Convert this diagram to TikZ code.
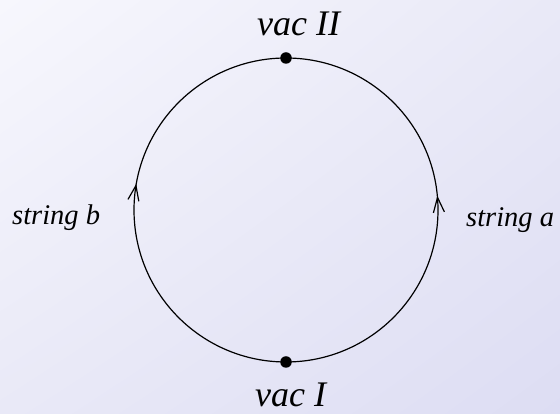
\documentclass[tikz,border=0pt]{standalone}
\usepackage{fontspec}
\setmainfont{LiberationSerif}[Extension=.ttf,UprightFont=*-Regular,ItalicFont=*-Italic]
\usetikzlibrary{arrows.meta,decorations.markings,shadings}
\definecolor{bgA}{RGB}{247,247,253}
\definecolor{bgB}{RGB}{233,233,247}
\definecolor{bgC}{RGB}{221,221,243}
\tikzset{
  vacdot/.style={circle,fill=black,inner sep=0pt,minimum size=11.5pt},
  biglabel/.style={inner sep=0pt,font=\fontsize{36}{40}\selectfont\itshape},
  smalllabel/.style={inner sep=0pt,font=\fontsize{28.5}{32}\selectfont\itshape},
  stringline/.style={line width=1.2pt},
  markat/.style={postaction={decorate,decoration={markings,
     mark=at position #1 with {\arrow{Straight Barb[length=15pt,width=11pt,line width=1.2pt]}}}}}
}
\begin{document}
\begin{tikzpicture}[x=1pt,y=1pt]
\useasboundingbox (0,0) rectangle (560,414);
\shade[upper left=bgA, upper right=bgB, lower left=bgB, lower right=bgC] (0,0) rectangle (560,414);
\coordinate (c) at (286,204);
\node[vacdot] (vI) at (286,52) {};
\node[vacdot] (vII) at (286,356) {};
\draw[stringline, markat=0.53] (vI.center) arc[start angle=-90, end angle=90, radius=152];
\draw[stringline, markat=0.555] (vI.center) arc[start angle=-90, end angle=-270, radius=152];
\node[biglabel, anchor=base west] (lII) at (257,378) {vac II};
\node[biglabel, anchor=base west] (lI) at (255,7) {vac I};
\node[smalllabel, anchor=base west] (la) at (466,187) {string a};
\node[smalllabel, anchor=base west] (lb) at (12,189) {string b};
\end{tikzpicture}
\end{document}
